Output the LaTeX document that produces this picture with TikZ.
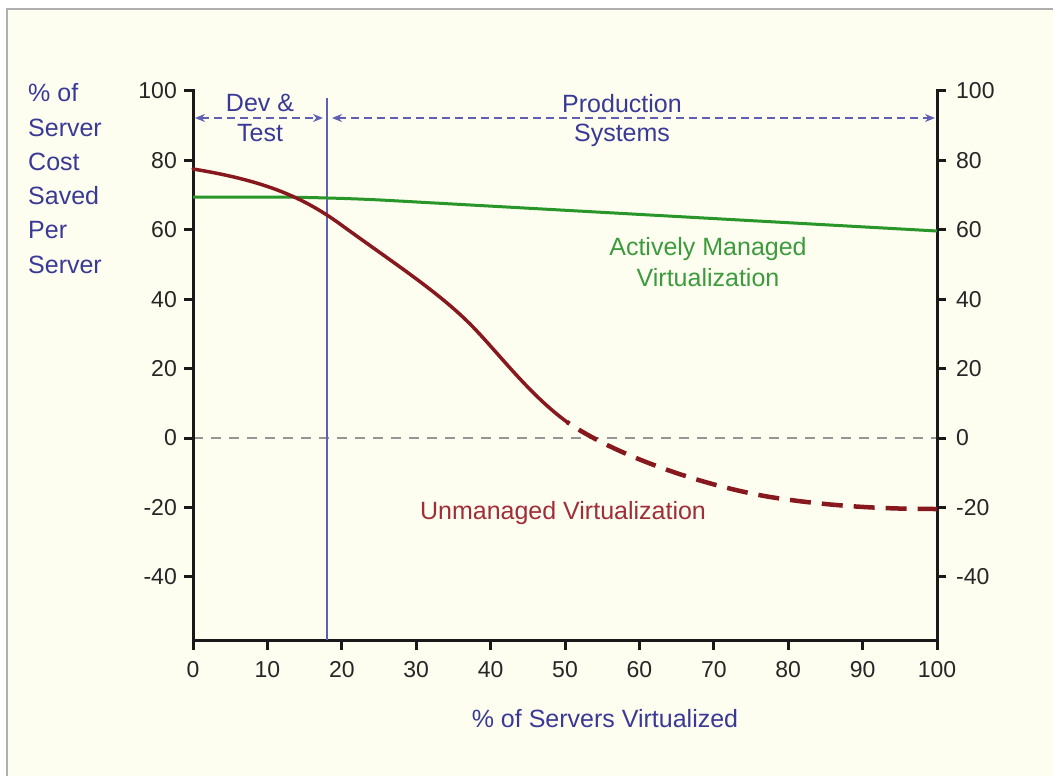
\documentclass[tikz,border=0pt]{standalone}
\usepackage{fontspec}
\setmainfont{Liberation Sans}
\usetikzlibrary{arrows.meta}
\definecolor{bg}{RGB}{253,253,240}
\definecolor{framec}{RGB}{175,175,175}
\definecolor{bluetxt}{RGB}{58,58,150}
\definecolor{blueline}{RGB}{95,95,180}
\definecolor{greenline}{RGB}{40,150,40}
\definecolor{greentxt}{RGB}{60,155,60}
\definecolor{redline}{RGB}{135,25,30}
\definecolor{redtxt}{RGB}{160,45,55}
\definecolor{zeroc}{RGB}{150,150,150}
\begin{document}
\begin{tikzpicture}[x=1pt,y=-1pt,
  lbl/.style={font=\fontsize{25}{30}\selectfont, inner sep=0pt, anchor=base},
  ticklbl/.style={font=\fontsize{23}{28}\selectfont, inner sep=0pt, text=black!85},
  axisline/.style={line width=3pt, black!90, line join=miter},
  tickline/.style={line width=3pt, black!90},
  blarrow/.style={blueline, line width=1.8pt, dash pattern=on 8pt off 5pt,
    {Stealth[length=10pt,width=8pt]}-{Stealth[length=10pt,width=8pt]}},
  ]
\useasboundingbox (0,0) rectangle (1053,776);
\fill[white] (0,0) rectangle (1053,776);
\fill[bg] (7,9) rectangle (1053,776);
\draw[framec, line width=2pt] (7,776) -- (7,9) -- (1053,9);

% zero line
\coordinate (z0) at (193,438);
\coordinate (z1) at (937,438);
\draw[zeroc, line width=1.5pt, dash pattern=on 10pt off 8pt] (z0) -- (z1);

% axes
\coordinate (tl) at (184,91);
\coordinate (ao) at (193,91);
\coordinate (bl) at (193,640);
\coordinate (br) at (937,640);
\coordinate (ar) at (937,91);
\coordinate (tr) at (946,91);
\draw[axisline] (tl) -- (ao) -- (bl) -- (br) -- (ar) -- (tr);

\foreach \v [count=\i] in {100,80,60,40,20,0,-20,-40}{
  \pgfmathsetmacro{\yy}{438-3.47*\v}
  \draw[tickline] (184,\yy) -- (193,\yy);
  \draw[tickline] (937,\yy) -- (946,\yy);
  \node[ticklbl, anchor=east] (ly\i) at (177,\yy) {\v};
  \node[ticklbl, anchor=west] (ry\i) at (956,\yy) {\v};
}
\foreach \v [count=\i] in {0,10,...,100}{
  \pgfmathsetmacro{\xx}{193+7.44*\v}
  \draw[tickline] (\xx,640) -- (\xx,650);
  \node[ticklbl] (bx\i) at (\xx,670) {\v};
}

% left axis label
\foreach \t [count=\i] in {\% of,Server,Cost,Saved,Per,Server}{
  \node[lbl, anchor=base west, text=bluetxt] (yl\i) at (28,{102+34.2*(\i-1)}) {\t};
}
\node[lbl, text=bluetxt] (xl) at (605,727) {\% of Servers Virtualized};

% phase divider
\coordinate (vt) at (327,98);
\coordinate (vb) at (327,640);
\draw[blueline, line width=2pt] (vt) -- (vb);

\coordinate (d0) at (195,118);
\coordinate (d1) at (323,118);
\coordinate (p0) at (332,118);
\coordinate (p1) at (935,118);
\draw[blarrow] (d0) -- (d1);
\draw[blarrow] (p0) -- (p1);
\node[lbl, text=bluetxt] (dev) at (260,111) {Dev \&};
\node[lbl, text=bluetxt] (test) at (260,141) {Test};
\node[lbl, text=bluetxt] (prod) at (622,113) {Production};
\node[lbl, text=bluetxt] (sys) at (622,142) {Systems};

% green curve
\coordinate (g0) at (193,197);
\coordinate (g1) at (327,197);
\coordinate (g2) at (937,231);
\draw[greenline, line width=3pt, rounded corners=60pt] (g0) -- (g1) -- (g2);
\node[lbl, text=greentxt] (am1) at (708,255) {Actively Managed};
\node[lbl, text=greentxt] (am2) at (708,286) {Virtualization};

% red curve
\coordinate (r0) at (193,169);
\coordinate (r1) at (340,224);
\coordinate (r2) at (473,327);
\coordinate (r3) at (567,422);
\coordinate (r4) at (770,497);
\coordinate (r5) at (937,509);
\draw[redline, line width=3.5pt, line cap=round]
  (r0) .. controls (260,180) and (300,195) .. (r1)
       .. controls (395,264) and (440,293) .. (r2)
       .. controls (500,355) and (530,395) .. (r3);
\draw[redline, line width=4.5pt, dash pattern=on 21pt off 11pt, dash phase=-14pt]
  (r3) .. controls (615,455) and (700,485) .. (r4)
       .. controls (840,508) and (900,509) .. (r5);
\node[lbl, text=redtxt] (um) at (563,519) {Unmanaged Virtualization};
\end{tikzpicture}
\end{document}
